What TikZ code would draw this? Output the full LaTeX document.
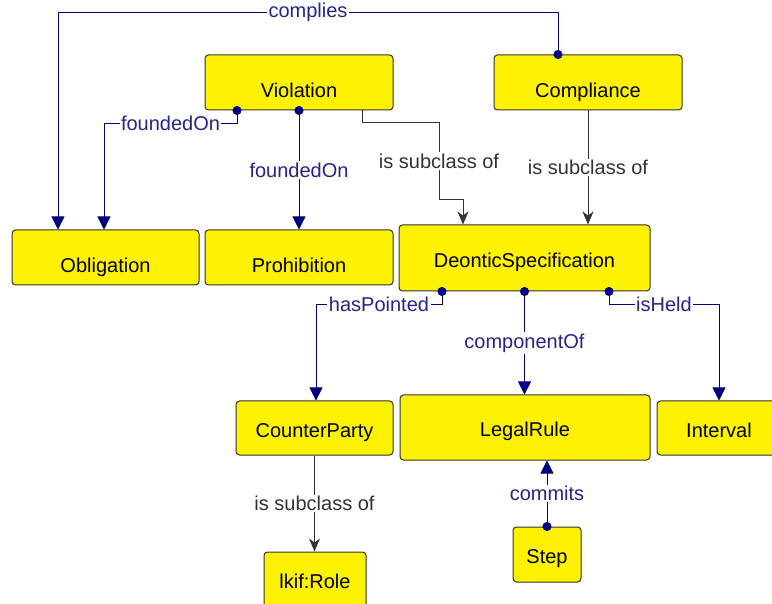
\documentclass[tikz,border=0pt]{standalone}
\usepackage{fontspec}
\setmainfont{Liberation Sans}
\usetikzlibrary{arrows.meta}
\definecolor{relblue}{RGB}{0,0,128}
\definecolor{lblblue}{RGB}{36,36,140}
\definecolor{isagray}{RGB}{51,51,51}

\begin{document}
\begin{tikzpicture}[x=1pt,y=-1pt,>=Stealth,
  font=\fontsize{20}{23}\selectfont,
  cls/.style={draw=isagray,fill=yellow,rounded corners=3.5pt,line width=1pt,
    text height=22.4pt,text depth=4pt,inner sep=0pt},
  low/.style={text height=33.4pt},
  assoc/.style={relblue,line width=0.9pt,
    {Circle[length=9pt,sep=-4.5pt]}-{Triangle[width=13pt,length=13pt]}},
  isa/.style={isagray,line width=0.9pt,-{Stealth[width=11pt,length=13pt,inset=4pt]}},
  lbl/.style={fill=white,inner sep=1.5pt,text=isagray},
  rlbl/.style={lbl,text=lblblue}]
\useasboundingbox (0,0) rectangle (772,604);

\node[cls,low,minimum width=188pt,minimum height=55pt] (viol) at (299,82.5) {Violation};
\node[cls,low,minimum width=188pt,minimum height=55pt] (comp) at (588,82.5) {Compliance};
\node[cls,low,minimum width=187pt,minimum height=55pt] (obl) at (105.5,257.5) {Obligation};
\node[cls,low,minimum width=188pt,minimum height=55pt] (proh) at (299,257.5) {Prohibition};
\node[cls,minimum width=251pt,minimum height=66pt] (deon) at (524.5,258) {DeonticSpecification};
\node[cls,minimum width=157pt,minimum height=54pt] (cp) at (314.5,428) {CounterParty};
\node[cls,minimum width=250pt,minimum height=65pt] (legal) at (525,427.5) {LegalRule};
\node[cls,minimum width=124pt,minimum height=54pt] (intv) at (719,428) {Interval};
\node[cls,minimum width=68pt,minimum height=55pt] (step) at (547,554.5) {Step};
\node[cls,minimum width=102pt,minimum height=55pt] (role) at (315,579.5) {lkif:Role};

\draw[assoc] ([xshift=-30]comp.north) -- ++(0,-42) -| node[rlbl,pos=0.25] {complies} ([xshift=-47.5]obl.north);
\draw[assoc] ([xshift=-62]viol.south) -- ++(0,13) -| node[rlbl,pos=0.25] {foundedOn} ([xshift=-1.5]obl.north);
\draw[assoc] (viol.south) -- node[rlbl] {foundedOn} (proh.north);
\draw[isa] ([xshift=63]viol.south) -- ++(0,12) -| node[lbl,pos=0.75] {is subclass of} ([xshift=-85.5,yshift=25]deon.north) -| ([xshift=-61.5]deon.north);
\draw[isa] (comp.south) -- node[lbl] {is subclass of} (comp.south |- deon.north);

\draw[assoc] ([xshift=-82.5]deon.south) -- ++(0,13) -| node[rlbl,pos=0.25] {hasPointed} ([xshift=1.5]cp.north);
\draw[assoc] (deon.south) -- node[rlbl] {componentOf} (deon.south |- legal.north);
\draw[assoc] ([xshift=84.5]deon.south) -- ++(0,13) -| node[rlbl,pos=0.25] {isHeld} (intv.north);
\draw[assoc] (step.north) -- node[rlbl] {commits} (step.north |- legal.south);
\draw[isa] (cp.south) -- node[lbl] {is subclass of} (cp.south |- role.north);
\end{tikzpicture}
\end{document}
